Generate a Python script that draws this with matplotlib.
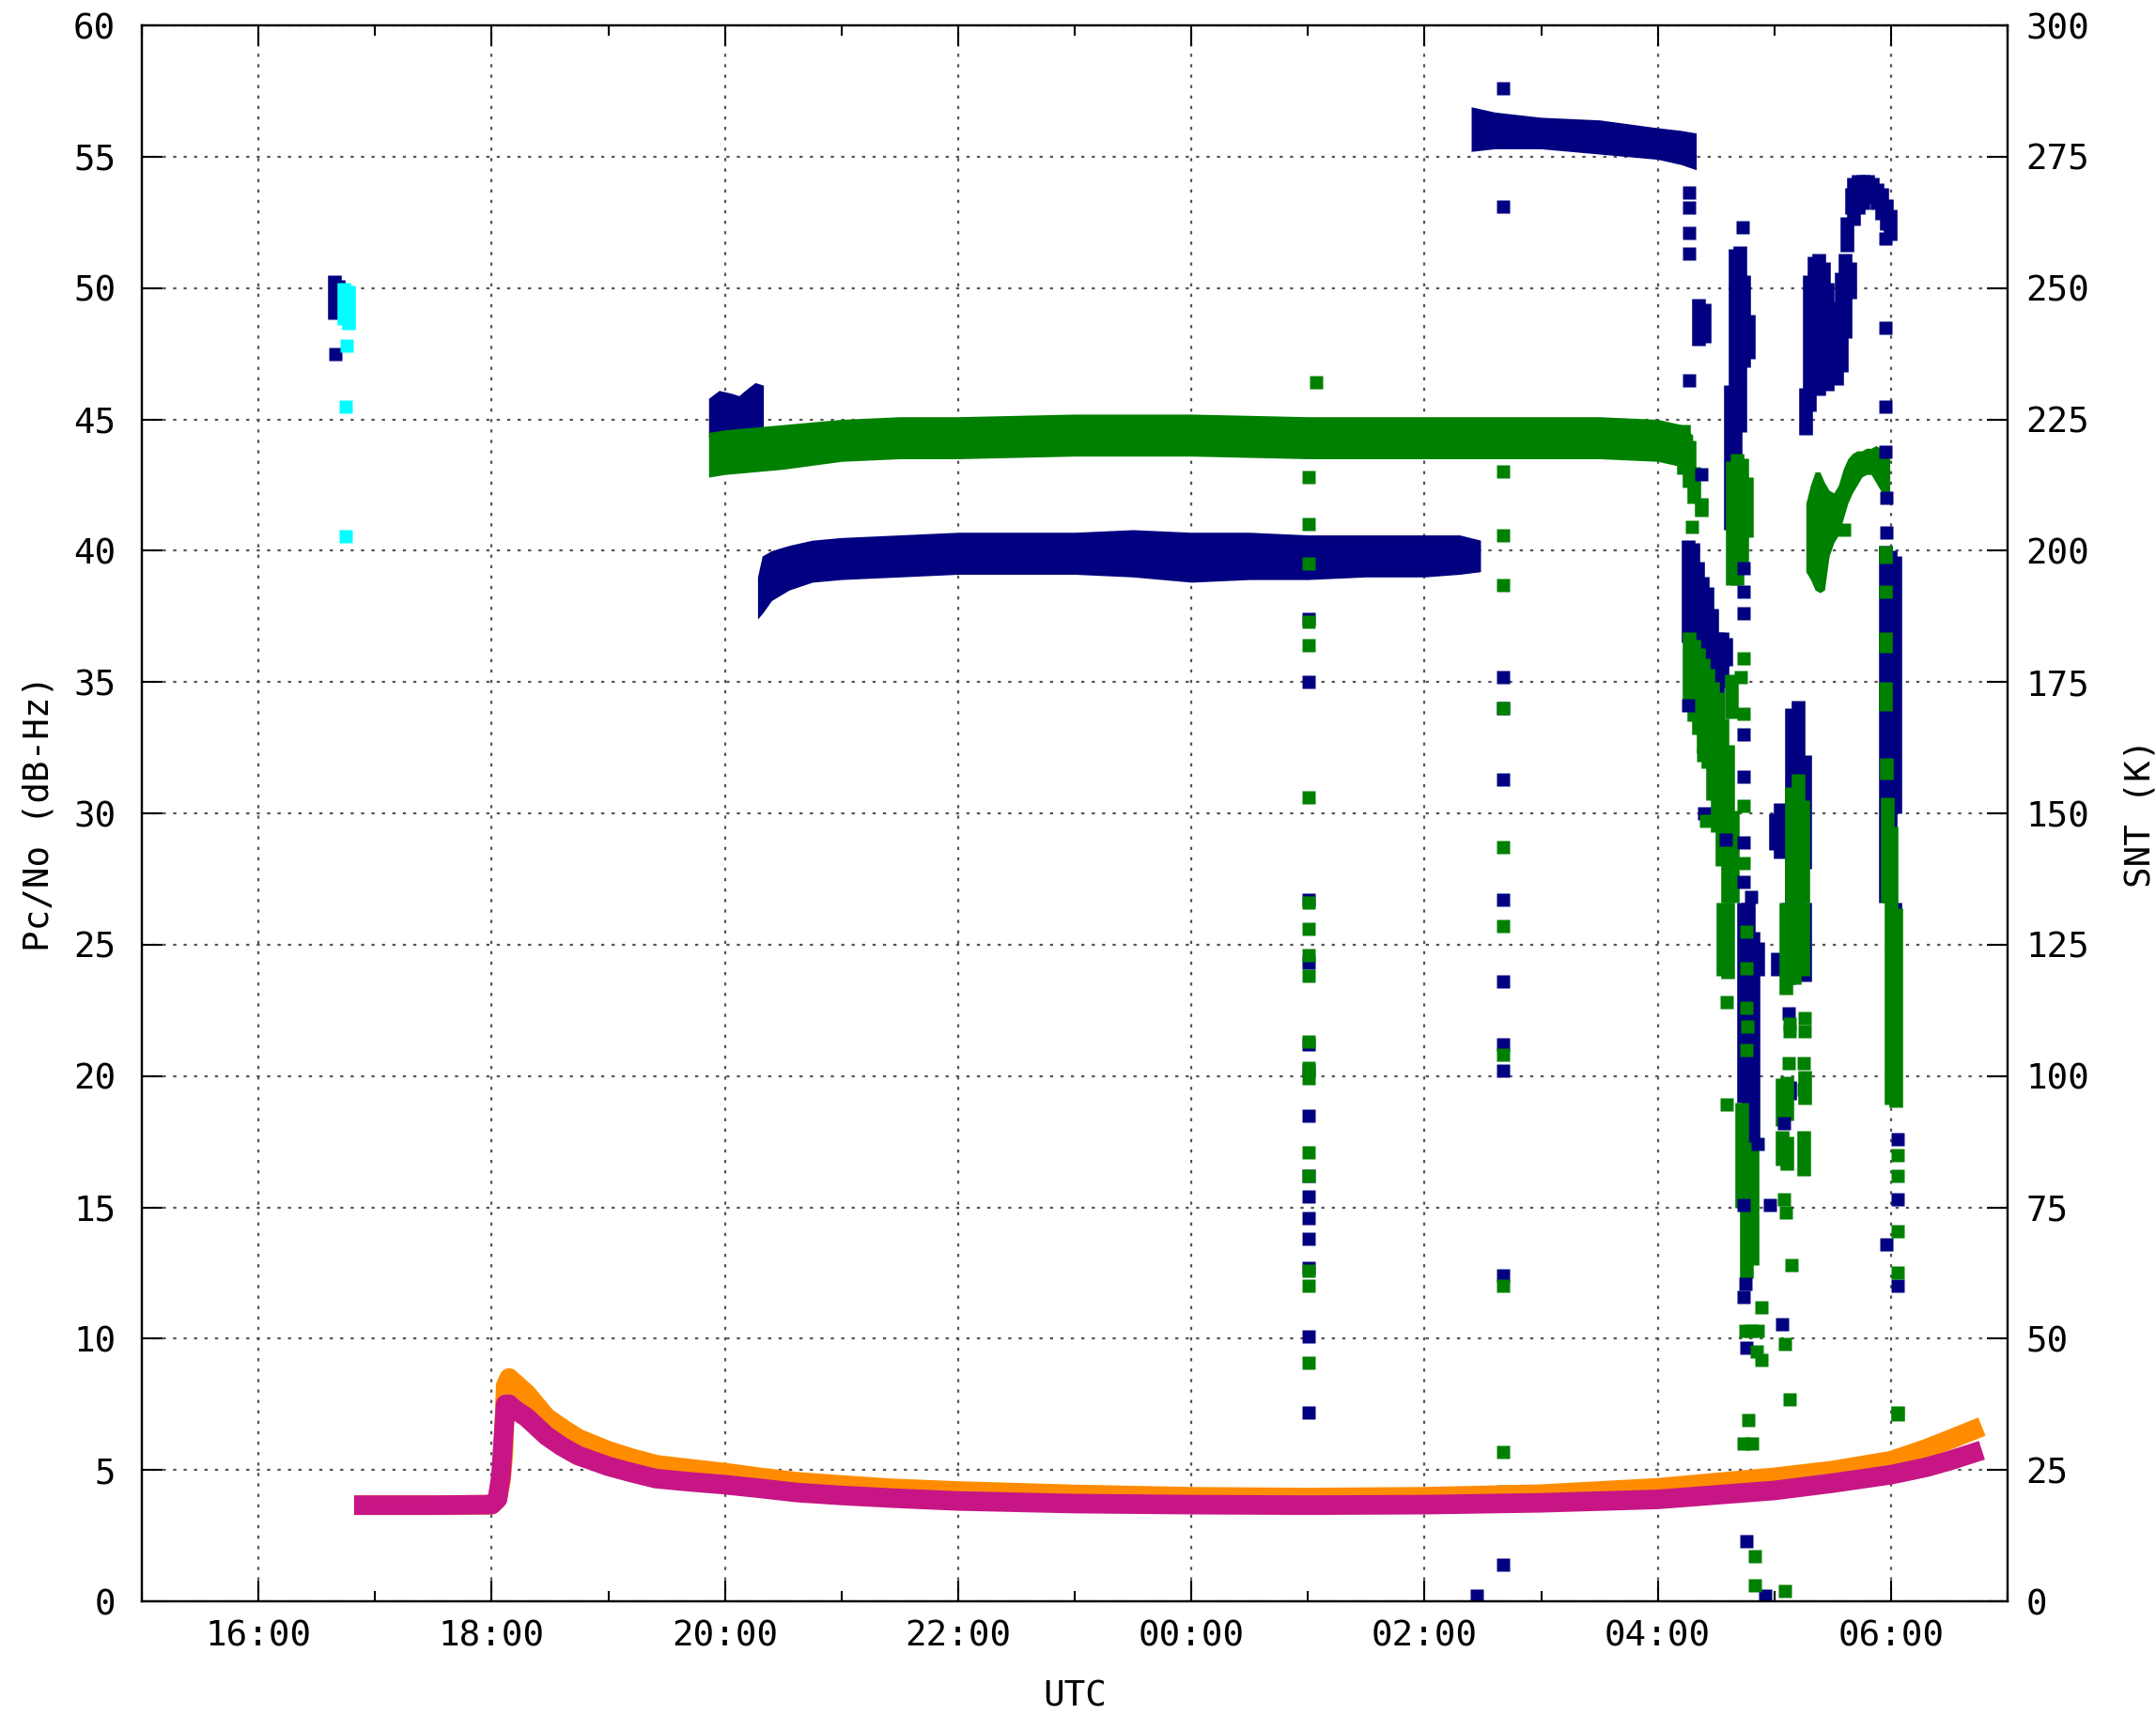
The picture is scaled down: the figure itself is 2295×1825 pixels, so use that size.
import matplotlib
matplotlib.use("Agg")
import matplotlib.pyplot as plt
from matplotlib.ticker import MultipleLocator, FuncFormatter

# time is in hours from 00:00 of the first day (30 = 06:00 next morning)

# ---- Pc/No, channel 1 (dark blue): dense bands as (time, low, high) envelopes
navy_a_t = [19.86, 19.95, 20.05, 20.12, 20.20, 20.26, 20.33]
navy_a_lo = [44.3, 44.5, 44.6, 44.5, 44.6, 44.6, 44.7]
navy_a_hi = [45.8, 46.1, 46.0, 45.9, 46.2, 46.4, 46.3]

navy_b_t = [20.28, 20.32, 20.40, 20.55, 20.75, 21.0, 21.5, 22.0, 22.5, 23.0,
            23.5, 24.0, 24.5, 25.0, 25.5, 26.0, 26.3, 26.48]
navy_b_lo = [37.4, 37.6, 38.1, 38.5, 38.8, 38.9, 39.0, 39.1, 39.1, 39.1,
             39.0, 38.8, 38.9, 38.9, 39.0, 39.0, 39.1, 39.2]
navy_b_hi = [39.0, 39.8, 40.0, 40.2, 40.4, 40.5, 40.6, 40.7, 40.7, 40.7,
             40.8, 40.7, 40.7, 40.6, 40.6, 40.6, 40.6, 40.4]

navy_c_t = [26.40, 26.60, 27.0, 27.5, 28.0, 28.2, 28.33]
navy_c_lo = [55.2, 55.3, 55.3, 55.1, 54.9, 54.7, 54.5]
navy_c_hi = [56.9, 56.7, 56.5, 56.4, 56.1, 56.0, 55.9]

# vertical runs of overlapping points (time, low, high)
navy_runs = [
    (16.65, 48.8, 50.5), (16.68, 49.0, 50.3),
    (28.35, 47.8, 49.6), (28.40, 47.9, 49.4),
    (28.26, 36.5, 40.4), (28.30, 36.5, 40.3), (28.34, 35.5, 39.6), (28.38, 35.0, 39.0),
    (28.42, 34.5, 38.6), (28.46, 33.8, 37.8), (28.51, 33.5, 36.9), (28.55, 34.8, 36.9),
    (28.58, 35.6, 36.7),
    (28.62, 40.8, 46.3), (28.66, 41.5, 51.5), (28.70, 44.5, 51.6), (28.74, 47.0, 50.5),
    (28.78, 47.3, 49.0),
    (28.74, 19.0, 26.6), (28.78, 17.5, 26.6), (28.82, 17.2, 25.5), (28.86, 23.8, 25.1),
    (29.01, 28.6, 30.0), (29.05, 28.3, 30.4), (29.15, 26.6, 34.0), (29.20, 26.6, 34.3),
    (29.26, 27.9, 32.2), (29.03, 23.8, 24.7), (29.12, 23.5, 26.6), (29.26, 23.6, 26.6),
    (29.13, 19.1, 19.8),
    (29.27, 44.4, 46.2), (29.30, 45.3, 50.5), (29.34, 46.0, 51.2), (29.38, 45.9, 51.3),
    (29.42, 46.3, 51.0), (29.45, 46.1, 50.2), (29.49, 46.6, 49.2), (29.53, 46.3, 49.5),
    (29.57, 46.8, 50.6), (29.61, 48.1, 51.3), (29.65, 49.6, 51.0), (29.62, 51.4, 52.7),
    (29.66, 52.8, 53.8), (29.68, 52.4, 54.2), (29.72, 52.8, 54.3), (29.76, 53.0, 54.3),
    (29.80, 53.3, 54.3), (29.84, 53.2, 54.2), (29.88, 53.0, 54.0), (29.92, 52.6, 53.8),
    (29.96, 52.2, 53.4), (29.99, 51.8, 53.0),
    (29.95, 26.6, 40.2), (29.99, 26.6, 40.0), (30.03, 30.0, 39.8), (30.03, 19.0, 26.6),
]

navy_pts_t = [16.66, 26.45,
              26.67, 26.67, 26.67, 26.67, 26.67, 26.67, 26.67, 26.67, 26.67, 26.67, 26.67,
              25.01, 25.01, 25.01, 25.01, 25.01, 25.01, 25.01, 25.01, 25.01, 25.01, 25.01,
              25.01, 25.01, 25.01,
              28.27, 28.27, 28.27, 28.27, 28.27, 28.37, 28.73,
              29.95, 29.95, 29.95, 29.95, 29.96, 29.96,
              28.26, 28.40, 28.58,
              28.74, 28.74, 28.74, 28.74, 28.74, 28.74, 28.74, 28.80,
              28.86, 28.74, 28.96, 29.12, 29.08, 30.06, 30.06, 29.96,
              28.74, 28.75, 29.07, 28.76, 28.76, 28.92, 30.06]
navy_pts_v = [47.5, 0.2,
              57.6, 53.1, 35.2, 34.0, 31.3, 26.7, 23.6, 21.2, 20.2, 12.4, 1.4,
              37.4, 35.0, 26.7, 24.3, 21.2, 20.2, 18.5, 16.2, 15.4, 14.6, 13.8,
              12.7, 10.1, 7.2,
              53.65, 53.05, 52.1, 51.3, 46.5, 42.9, 52.3,
              51.9, 48.5, 45.5, 43.75, 42.0, 40.7,
              34.1, 30.0, 29.0,
              39.35, 38.45, 37.6, 33.0, 31.4, 28.9, 27.4, 26.8,
              17.4, 15.1, 15.1, 22.4, 18.2, 17.6, 15.3, 13.6,
              11.6, 12.1, 10.55, 9.65, 2.3, 0.2, 12.0]

# ---- Pc/No, channel 2 (dark green)
green_t = [19.86, 20.0, 20.5, 21.0, 21.5, 22.0, 23.0, 24.0, 25.0, 26.0,
           27.0, 27.5, 28.0, 28.2, 28.3]
green_lo = [42.8, 42.9, 43.1, 43.4, 43.5, 43.5, 43.6, 43.6, 43.5, 43.5,
            43.5, 43.5, 43.4, 43.2, 42.5]
green_hi = [44.5, 44.6, 44.8, 45.0, 45.1, 45.1, 45.2, 45.2, 45.1, 45.1,
            45.1, 45.1, 45.0, 44.8, 44.4]

green_v_t = [29.27, 29.31, 29.35, 29.39, 29.43, 29.47, 29.51, 29.55, 29.59, 29.63,
             29.67, 29.71, 29.75, 29.79, 29.83, 29.87, 29.91, 29.95, 29.99]
green_v_lo = [39.2, 38.9, 38.5, 38.4, 38.5, 39.8, 40.3, 40.6, 41.2, 41.8,
              42.2, 42.5, 42.8, 42.9, 42.9, 42.6, 42.3, 42.0, 41.8]
green_v_hi = [41.8, 42.5, 43.0, 43.0, 42.6, 42.3, 42.2, 42.5, 43.1, 43.5,
              43.7, 43.8, 43.8, 43.9, 43.9, 44.0, 43.9, 43.8, 43.6]

green_runs = [
    (28.22, 42.9, 44.8), (28.27, 42.4, 44.2), (28.31, 41.8, 43.2), (28.37, 41.3, 42.0),
    (28.64, 38.7, 43.4), (28.68, 38.7, 43.7), (28.72, 39.5, 43.5), (28.76, 40.5, 42.8),
    (28.27, 34.0, 36.9), (28.31, 33.5, 36.6), (28.35, 33.0, 36.3), (28.39, 32.3, 35.9),
    (28.43, 31.7, 35.5), (28.47, 30.5, 35.0), (28.51, 29.3, 34.6), (28.55, 28.0, 33.6),
    (28.60, 26.6, 32.6), (28.64, 26.6, 30.1), (28.63, 33.6, 35.3),
    (28.56, 23.8, 26.6), (28.60, 23.7, 26.6), (28.72, 15.0, 19.0), (28.76, 12.3, 17.0),
    (28.81, 12.8, 17.5),
    (29.10, 23.1, 26.6), (29.17, 23.5, 26.6), (29.24, 23.8, 26.6), (29.07, 18.1, 19.9),
    (29.11, 18.3, 20.0), (29.26, 18.9, 20.2), (29.07, 16.6, 17.9), (29.11, 16.4, 17.7),
    (29.25, 16.2, 17.9),
    (29.15, 26.6, 31.0), (29.20, 26.6, 31.5), (29.24, 26.6, 30.5),
    (29.95, 39.5, 40.2), (29.95, 38.2, 38.7), (29.95, 36.1, 36.9), (29.95, 33.9, 35.0),
    (29.96, 31.3, 32.1), (29.97, 26.6, 30.6), (30.00, 18.9, 29.5), (30.04, 18.8, 26.4),
    (30.06, 6.85, 7.45),
]

green_pts_t = [25.07, 25.01, 25.01, 25.01, 25.01, 25.01, 25.01, 25.01, 25.01, 25.01,
               25.01, 25.01, 25.01, 25.01, 25.01, 25.01, 25.01, 25.01, 25.01,
               26.67, 26.67, 26.67, 26.67, 26.67, 26.67, 26.67, 26.67, 26.67, 26.67,
               28.29, 29.60,
               28.74, 28.74, 28.74, 28.74, 28.39, 28.41, 28.40, 28.71,
               28.59, 28.59, 28.76, 28.76, 28.76, 28.77, 28.76,
               29.13, 29.13, 29.26, 29.26, 29.12, 29.25, 29.25, 29.08, 29.10,
               30.06, 30.06, 30.06,
               28.89, 28.75, 28.80, 28.86, 29.09, 28.85, 28.89, 29.13, 28.78, 28.74,
               28.81, 28.90, 28.83, 28.83, 29.09, 29.15, 30.06]
green_pts_v = [46.4, 42.8, 41.0, 39.5, 37.3, 36.4, 30.6, 26.6, 25.6, 24.6,
               23.8, 21.3, 20.3, 19.9, 17.1, 16.2, 12.6, 12.0, 9.1,
               43.0, 40.6, 38.7, 34.0, 28.7, 25.7, 20.8, 12.0, 5.7, 4.2,
               40.9, 40.8,
               35.9, 33.8, 30.3, 28.1, 32.2, 29.7, 33.0, 35.2,
               22.8, 18.9, 25.5, 24.1, 22.6, 21.9, 21.0,
               21.7, 22.0, 22.2, 21.7, 20.5, 20.5, 19.5, 15.3, 14.8,
               17.0, 16.2, 14.1,
               11.2, 10.3, 10.3, 10.3, 9.8, 9.5, 9.2, 7.7, 6.9, 6.0,
               6.0, 4.7, 1.7, 0.6, 0.4, 12.8, 12.5]

# ---- short third track (cyan) near 16:45
cyan_runs = [(16.73, 48.6, 50.2), (16.77, 48.4, 50.1)]
cyan_pts_t = [16.76, 16.75, 16.75]
cyan_pts_v = [47.8, 45.5, 40.55]

# ---- system noise temperature (right axis, K)
snt_t = [16.82, 17.0, 17.5, 18.0, 18.05, 18.08, 18.10, 18.12, 18.15, 18.2, 18.3, 18.47,
         18.6, 18.74, 19.0, 19.2, 19.41, 19.7, 20.0, 20.3, 20.62, 21.0, 21.43, 22.0,
         23.0, 24.0, 25.0, 26.0, 27.0, 28.0, 28.5, 29.0, 29.5, 30.0, 30.3, 30.5, 30.78]
snt_magenta = [18.3, 18.3, 18.3, 18.4, 19.5, 24, 31, 37.5, 37.5, 36.5, 35, 31.5,
               29.5, 27.75, 25.7, 24.5, 23.35, 22.75, 22.2, 21.5, 20.7, 20.15, 19.65, 19.1,
               18.6, 18.4, 18.3, 18.4, 18.75, 19.4, 20.25, 21.1, 22.5, 24.1, 25.5, 26.75, 28.75]
snt_orange = [18.3, 18.3, 18.3, 18.4, 19.5, 23, 28, 41, 42.5, 41.5, 39.5, 35,
              33, 31, 28.65, 27.25, 26, 25.25, 24.5, 23.6, 22.75, 22.15, 21.5, 21,
              20.35, 19.9, 19.75, 19.9, 20.4, 21.6, 22.6, 23.6, 24.9, 26.75, 29, 30.75, 33.25]

NAVY = "#000080"
GREEN = "#008000"
CYAN = "#00ffff"
ORANGE = "#ff8c00"
MAGENTA = "#c71585"
MS = 10.5  # marker size in points (about 15 px)

plt.rcParams["font.family"] = ["DejaVu Sans Mono"]
plt.rcParams["font.size"] = 27

fig = plt.figure(figsize=(22.95, 18.25), dpi=100)
ax = fig.add_axes([151 / 2295, 1 - 1705 / 1825, (2137 - 151) / 2295, (1705 - 27) / 1825])


def draw_band(t, lo, hi, color):
    ax.fill_between(t, lo, hi, color=color, linewidth=0)


def draw_runs(runs, color):
    xs = [r[0] for r in runs]
    ax.vlines(xs, [r[1] for r in runs], [r[2] for r in runs],
              colors=color, linewidth=MS, capstyle="butt")


draw_band(navy_a_t, navy_a_lo, navy_a_hi, NAVY)
draw_band(navy_b_t, navy_b_lo, navy_b_hi, NAVY)
draw_band(navy_c_t, navy_c_lo, navy_c_hi, NAVY)
draw_runs(navy_runs, NAVY)
draw_band(green_t, green_lo, green_hi, GREEN)
draw_band(green_v_t, green_v_lo, green_v_hi, GREEN)
draw_runs(green_runs, GREEN)
ax.plot(navy_pts_t, navy_pts_v, "s", ms=MS, color=NAVY, mec="none")
ax.plot(green_pts_t, green_pts_v, "s", ms=MS, color=GREEN, mec="none")
draw_runs(cyan_runs, CYAN)
ax.plot(cyan_pts_t, cyan_pts_v, "s", ms=MS, color=CYAN, mec="none")

ax.set_xlim(15, 31)
ax.set_ylim(0, 60)
ax.xaxis.set_major_locator(MultipleLocator(2))
ax.xaxis.set_minor_locator(MultipleLocator(1))
ax.xaxis.set_major_formatter(FuncFormatter(lambda h, p: "%02d:00" % (int(round(h)) % 24)))
ax.yaxis.set_major_locator(MultipleLocator(5))
ax.grid(True, which="major", color="#555555", linestyle=(0, (1.5, 3.5)), linewidth=1.6)
ax.set_axisbelow(True)
ax.tick_params(axis="both", which="major", direction="in", length=16, width=1.5, pad=14)
ax.tick_params(axis="x", which="minor", direction="in", length=8, width=1.5, top=True)
ax.tick_params(axis="x", which="both", top=True)
ax.tick_params(axis="y", right=False)
ax.tick_params(axis="y", pad=20)
ax.set_xlabel("UTC", labelpad=20)
ax.set_ylabel("Pc/No (dB-Hz)")
ax.yaxis.set_label_coords(-0.046, 0.5)

ax2 = ax.twinx()
ax2.plot(snt_t, snt_orange, color=ORANGE, linewidth=15, solid_capstyle="butt")
ax2.plot(snt_t, snt_magenta, color=MAGENTA, linewidth=15, solid_capstyle="butt")
ax2.set_ylim(0, 300)
ax2.yaxis.set_major_locator(MultipleLocator(25))
ax2.tick_params(axis="y", direction="in", length=16, width=1.5, pad=14)
ax2.set_ylabel("SNT (K)")
ax2.yaxis.set_label_coords(1.062, 0.5)

for a in (ax, ax2):
    for s in a.spines.values():
        s.set_linewidth(1.6)

fig.savefig("out.png", dpi=100)
